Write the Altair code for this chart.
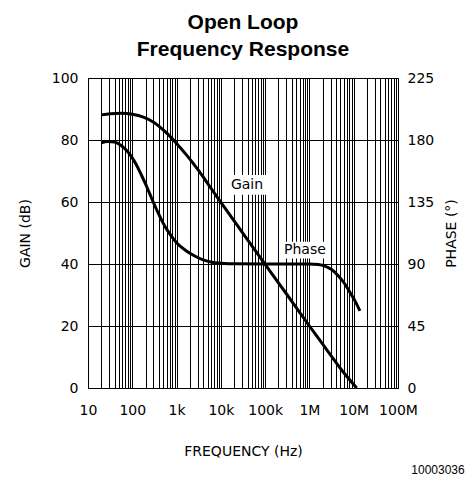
import altair as alt
import pandas as pd

# ---- data ----
gain_freq = [20, 32, 56, 100, 178, 316, 562, 1000, 1780, 3160, 5620, 10000, 17800, 31600,
             56200, 100000, 316000, 1000000, 1780000, 3160000, 5620000, 11700000]
gain_db = [88.1, 88.5, 88.6, 88.3, 87.4, 85.6, 82.6, 78.9, 74.7, 70.1, 65.0, 59.9, 54.9, 49.9,
           44.9, 39.9, 30.0, 20.0, 15.1, 10.2, 5.4, 0.0]

phase_freq = [20, 28, 40, 56, 79, 100, 126, 158, 200, 251, 316, 398, 501, 631, 794, 1000,
              1580, 2510, 3980, 6310, 10000, 20000, 100000, 1000000, 1580000, 2240000,
              3160000, 4470000, 6310000, 8910000, 11200000, 13800000]
phase_deg = [178, 179, 178.5, 176, 171.5, 167, 161.5, 155, 148, 140.5, 133, 126, 119.5, 114, 109.5, 105.5,
             100, 96, 93, 91.3, 90.6, 90.1, 90, 90, 89.6, 88.5,
             86, 81.5, 75.5, 67.5, 62, 56]

decade_values = [10, 100, 1000, 10000, 100000, 1000000, 10000000, 100000000]
decade_labels = ["10", "100", "1k", "10k", "100k", "1M", "10M", "100M"]
gain_ticks = [0, 20, 40, 60, 80, 100]
phase_ticks = [0, 45, 90, 135, 180, 225]

label_text = ["Gain", "Phase"]
label_freq = [39000, 790000]
label_db = [65.5, 44.5]
box_f1 = [14400, 215000]
box_f2 = [110000, 2600000]
box_y1 = [62.3, 41.8]
box_y2 = [68.7, 47.2]

# grid values: 1..9 x 10^k
grid_values = []
for d in decade_values[:-1]:
    for m in range(1, 10):
        grid_values.append(d * m)
grid_values.append(decade_values[-1])

expr = "''"
for v, l in reversed(list(zip(decade_values, decade_labels))):
    expr = f"datum.value == {v} ? '{l}' : ({expr})"

gain_df = pd.DataFrame({"freq": gain_freq, "gain": gain_db})
phase_df = pd.DataFrame({"freq": phase_freq, "phase": phase_deg})
lab_df = pd.DataFrame({"text": label_text, "freq": label_freq, "gain": label_db,
                       "f1": box_f1, "f2": box_f2, "y1": box_y1, "y2": box_y2})

FONT = "DejaVu Sans"
xscale = alt.Scale(type="log", domain=[10, 100000000], nice=False)
gscale = alt.Scale(domain=[0, 100], nice=False, zero=False)
pscale = alt.Scale(domain=[0, 225], nice=False, zero=False)

x_axis = alt.Axis(values=grid_values, labelExpr=expr, grid=True, gridColor="black", gridOpacity=1,
                  gridWidth=1, ticks=False, domain=False, labelOverlap=False, labelBound=False,
                  labelPadding=15, title="FREQUENCY (Hz)", titlePadding=27, labelFlush=False)

gain_line = alt.Chart(gain_df).mark_line(color="black", strokeWidth=3, interpolate="monotone").encode(
    x=alt.X("freq:Q", scale=xscale, axis=x_axis),
    y=alt.Y("gain:Q", scale=gscale,
            axis=alt.Axis(values=gain_ticks, grid=True, gridColor="black", gridOpacity=1, gridWidth=1,
                          ticks=False, domain=False, labelPadding=10, title="GAIN (dB)", titlePadding=19)),
)

phase_line = alt.Chart(phase_df).mark_line(color="black", strokeWidth=3, interpolate="monotone").encode(
    x=alt.X("freq:Q", scale=xscale),
    y=alt.Y("phase:Q", scale=pscale,
            axis=alt.Axis(orient="right", values=phase_ticks, grid=False, ticks=False, domain=False,
                          labelPadding=9, title="PHASE (°)", titleAngle=270, titlePadding=25)),
)

boxes = alt.Chart(lab_df).mark_rect(color="white").encode(
    x=alt.X("f1:Q", scale=xscale),
    x2="f2:Q",
    y=alt.Y("y1:Q", scale=gscale, axis=None),
    y2="y2:Q",
)

texts = alt.Chart(lab_df).mark_text(font=FONT, fontSize=14, color="black").encode(
    x=alt.X("freq:Q", scale=xscale),
    y=alt.Y("gain:Q", scale=gscale, axis=None),
    text="text:N",
)

foot = alt.Chart(pd.DataFrame({"t": ["10003036"]})).mark_text(
    font="Liberation Sans", fontSize=12, color="black", align="center", baseline="middle"
).encode(x=alt.value(350), y=alt.value(392), text="t:N")

chart = alt.layer(gain_line, boxes, texts, phase_line, foot).resolve_scale(y="independent").properties(
    width=310, height=310,
    padding={"left": 80, "top": 70, "right": 70, "bottom": 88},
    autosize="none",
    title=alt.TitleParams(["Open Loop", "Frequency Response"], font="Liberation Sans", fontSize=21,
                          fontWeight="bold", anchor="middle", offset=11, lineHeight=27, color="black"),
).configure_view(stroke="black", strokeWidth=1).configure_axis(
    labelFont=FONT, labelFontSize=14, labelColor="black", titleFont=FONT, titleFontSize=14,
    titleFontWeight="normal", titleColor="black"
)

chart.save("out.html", embed_options={"renderer": "svg", "actions": False})
